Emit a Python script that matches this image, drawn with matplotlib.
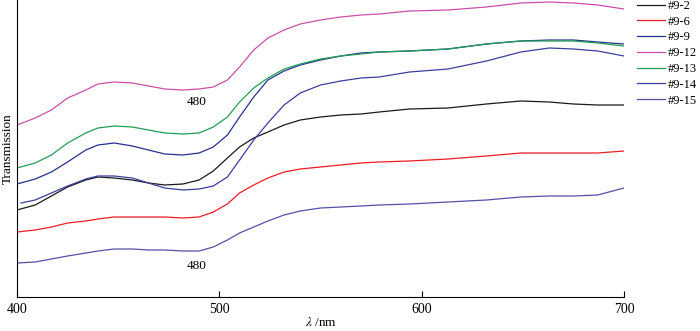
import matplotlib
matplotlib.use("Agg")
import matplotlib.pyplot as plt

plt.rcParams['font.family'] = ['Liberation Serif', 'DejaVu Serif']
plt.rcParams['mathtext.fontset'] = 'stix'

# wavelength (nm), shared by the series
wl = [400, 409, 417, 425, 434, 440, 448, 457, 465, 473, 482, 490, 497, 504, 510, 517,
      524, 532, 540, 550, 560, 570, 579, 594, 613, 632, 649, 663, 675, 687, 700]
wl_14 = [402] + wl[1:]

# transmission (arbitrary units)
t_2 = [87, 92, 101, 110, 117, 120, 119, 117, 114, 112, 113, 117, 126, 139, 150, 159,
       165, 172, 177, 180, 182, 183, 185, 188, 189, 193, 196, 195, 193, 192, 192]
t_6 = [65, 67, 70, 74, 76, 78, 80, 80, 80, 80, 79, 80, 85, 93, 104, 112,
       119, 125, 128, 130, 132, 134, 135, 136, 138, 141, 144, 144, 144, 144, 146]
t_9 = [113, 118, 125, 135, 147, 152, 154, 151, 147, 143, 142, 144, 150, 162, 180, 200,
       217, 226, 232, 237, 241, 244, 245, 246, 248, 253, 256, 257, 257, 255, 253]
t_12 = [172, 179, 187, 199, 207, 213, 215, 214, 211, 208, 207, 208, 210, 217, 230, 247,
        259, 267, 273, 277, 280, 282, 283, 286, 287, 290, 294, 295, 294, 292, 288]
t_13 = [129, 134, 142, 154, 164, 169, 171, 170, 167, 164, 163, 164, 170, 180, 195, 209,
        219, 228, 233, 238, 241, 243, 245, 246, 248, 253, 256, 256, 256, 254, 251]
t_14 = [94, 97, 104, 111, 118, 121, 121, 119, 114, 109, 107, 108, 111, 120, 137, 157,
        174, 192, 204, 212, 216, 219, 220, 225, 228, 236, 245, 249, 248, 246, 241]
t_15 = [34, 35, 38, 41, 44, 46, 48, 48, 47, 47, 46, 46, 50, 57, 64, 70,
        76, 82, 86, 89, 90, 91, 92, 93, 95, 97, 100, 101, 101, 102, 109]

series = [
    ("#9-2", wl, t_2, "#1a1a1a"),
    ("#9-6", wl, t_6, "#ee1c25"),
    ("#9-9", wl, t_9, "#26318f"),
    ("#9-12", wl, t_12, "#cc4fa6"),
    ("#9-13", wl, t_13, "#1f9e55"),
    ("#9-14", wl_14, t_14, "#3b3f9e"),
    ("#9-15", wl, t_15, "#5550a8"),
]

fig = plt.figure(figsize=(7, 3.31), dpi=100)
ax = fig.add_axes([17 / 700, 1 - 297 / 331, (624 - 17) / 700, 297 / 331])

for name, x, t, c in series:
    ax.plot(x, t, color=c, lw=0.9, label=name)

ax.set_xlim(400, 700)
ax.set_ylim(0, 297)
ax.set_xticks([400, 500, 600, 700])
ax.set_yticks([])
ax.tick_params(axis='x', direction='in', length=4, width=0.8, labelsize=10, pad=4)
ax.spines['top'].set_visible(False)
ax.spines['right'].set_visible(False)
ax.spines['left'].set_linewidth(0.8)
ax.spines['bottom'].set_linewidth(0.8)
ax.set_xlabel(r'$\lambda$ /nm', fontsize=9.5, labelpad=0)
ax.set_ylabel('Transmission', fontsize=9.5, labelpad=2)

ax.text(489, 195, '480', fontsize=9.5, ha='center', va='center')
ax.text(489, 31, '480', fontsize=9.5, ha='center', va='center')

fig.legend(loc='upper left', bbox_to_anchor=(637 / 700, 1.0), frameon=False,
           fontsize=9, handlelength=2.2, handletextpad=0.3, labelspacing=0.3,
           borderaxespad=0, borderpad=0)

fig.savefig("out.png", dpi=100)
